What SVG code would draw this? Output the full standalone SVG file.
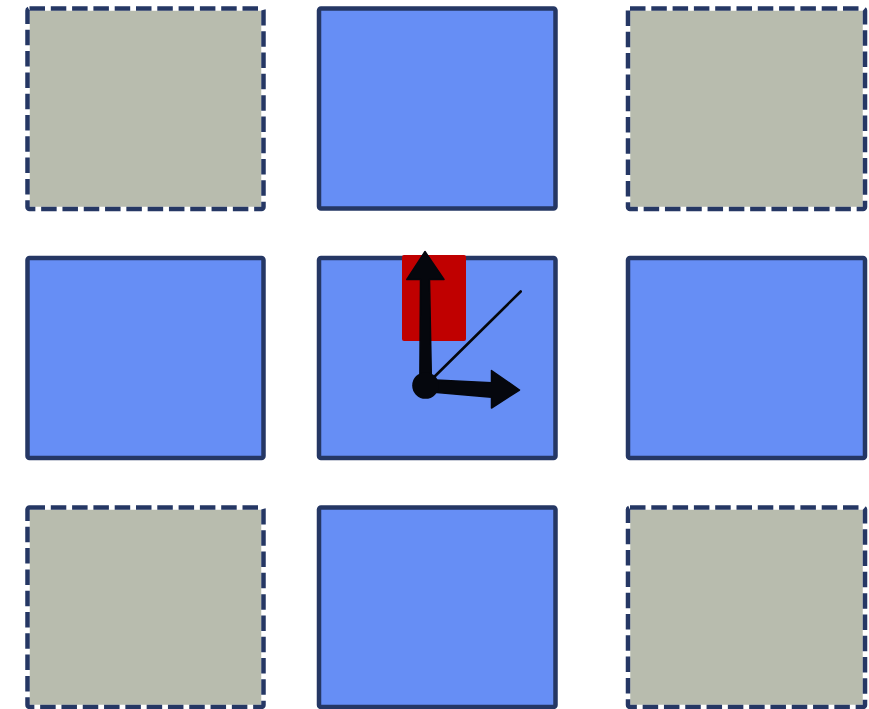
<svg xmlns="http://www.w3.org/2000/svg" width="869" height="709" viewBox="0 0 869 709">
<style>
.solid{fill:#668ef5;stroke:#253764;stroke-width:4.5;stroke-linejoin:round}
.ghost{fill:#b8bcae;stroke:#ffffff;stroke-width:4.5}
.dash{fill:none;stroke:#253764;stroke-width:4.5;stroke-dasharray:15.5 5.8;stroke-linejoin:round}
.ink{fill:#05070d;stroke:#05070d;stroke-width:1.5;stroke-linejoin:round}
</style>
<rect width="869" height="709" fill="#ffffff"/>
<g id="cell-top-left"><rect class="ghost" x="27.5" y="8.5" width="236" height="200.5"/><rect class="dash" x="27.5" y="8.5" width="236" height="200.5" rx="2"/></g>
<g id="cell-top-center"><rect class="solid" x="319" y="8.5" width="236.5" height="200" rx="2"/></g>
<g id="cell-top-right"><rect class="ghost" x="628" y="8.5" width="237" height="200.5"/><rect class="dash" x="628" y="8.5" width="237" height="200.5" rx="2"/></g>
<g id="cell-mid-left"><rect class="solid" x="27.5" y="258" width="236" height="200" rx="2"/></g>
<g id="cell-mid-center"><rect class="solid" x="319" y="258" width="236.5" height="200" rx="2"/></g>
<g id="cell-mid-right"><rect class="solid" x="628" y="258" width="237" height="200" rx="2"/></g>
<g id="cell-bot-left"><rect class="ghost" x="27.5" y="507.5" width="236" height="199.5"/><rect class="dash" x="27.5" y="507.5" width="236" height="199.5" rx="2"/></g>
<g id="cell-bot-center"><rect class="solid" x="319" y="507.5" width="236.5" height="199.5" rx="2"/></g>
<g id="cell-bot-right"><rect class="ghost" x="628" y="507.5" width="237" height="199.5"/><rect class="dash" x="628" y="507.5" width="237" height="199.5" rx="2"/></g>
<g id="red-marker"><rect x="402" y="255" width="64" height="86" rx="2" fill="#c00000"/></g>
<g id="connectors">
<line x1="425.5" y1="385.5" x2="520.7" y2="291.5" stroke="#05070d" stroke-width="2.6" stroke-linecap="round"/>
<polygon class="ink" points="419.8,385.5 431.5,385.5 429.5,279.5 444,279.5 425,251.5 406.8,279.5 420.5,279.5"/>
<polygon class="ink" points="425.5,379.5 425.5,391.5 491.5,397.3 491.5,408 519.5,390 491.5,370.5 491.5,382.7"/>
<circle cx="425.5" cy="385.5" r="13.3" fill="#05070d"/>
</g>
</svg>
